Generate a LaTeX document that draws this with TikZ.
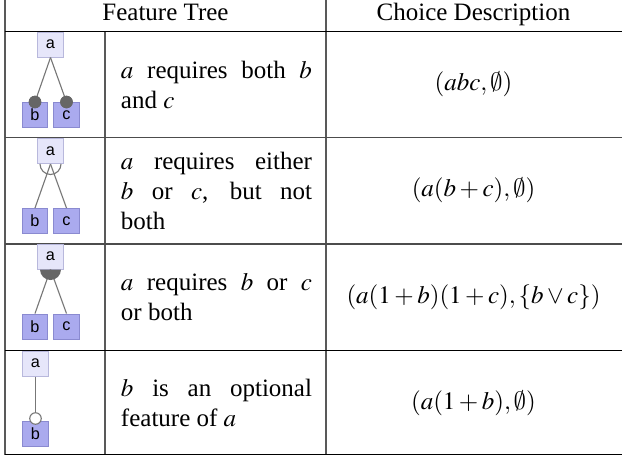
\documentclass[tikz,border=0pt]{standalone}
\usepackage{mathptmx}
\usepackage[no-math]{fontspec}
\setmainfont{Liberation Serif}
\newfontfamily\featfont{Liberation Sans}
\DeclareSymbolFont{cmsyfont}{OMS}{cmsy}{m}{n}
\DeclareMathSymbol{\myempty}{\mathord}{cmsyfont}{"3B}
\definecolor{rootfill}{HTML}{E6E6FA}
\definecolor{rootdraw}{HTML}{B8B8DC}
\definecolor{leaffill}{HTML}{AAAAEE}
\definecolor{leafdraw}{HTML}{8A8AD0}
\definecolor{edgegray}{HTML}{777777}
\definecolor{dotgray}{HTML}{666666}
\tikzset{
  rootbox/.style={rectangle, fill=rootfill, draw=rootdraw, line width=0.4pt, minimum width=10pt, minimum height=10pt, inner sep=0pt, font=\featfont\fontsize{6.5}{7}\selectfont},
  leafbox/.style={rectangle, fill=leaffill, draw=leafdraw, line width=0.4pt, minimum width=10pt, minimum height=10pt, inner sep=0pt, font=\featfont\fontsize{6.5}{7}\selectfont},
  edge/.style={draw=edgegray, line width=0.45pt},
  rule/.style={draw=black, line width=0.45pt},
  vrule/.style={draw=black!65, line width=0.45pt},
  desc/.style={anchor=west, text width=76.4pt, align=justify, inner sep=0pt, font=\fontsize{10}{12}\selectfont},
  formula/.style={inner sep=0pt, font=\fontsize{10}{12}\selectfont},
  mandot/.style={circle, fill=dotgray, draw=dotgray, minimum size=4.6pt, inner sep=0pt},
  optdot/.style={circle, fill=white, draw=edgegray, line width=0.45pt, minimum size=4.6pt, inner sep=0pt},
}
\begin{document}
\begin{tikzpicture}[x=0.4pt, y=-0.4pt]
\useasboundingbox (0,0) rectangle (622,456);
% table rules
\coordinate (tl) at (5,0);
\coordinate (bl) at (5,454.5);
\coordinate (br) at (622,454.5);
\coordinate (h1l) at (5,31.5);
\coordinate (h1r) at (622,31.5);
\coordinate (r1l) at (5,137.5);
\coordinate (r1r) at (622,137.5);
\coordinate (r2l) at (5,244);
\coordinate (r2r) at (622,244);
\coordinate (r3l) at (5,350.5);
\coordinate (r3r) at (622,350.5);
\coordinate (c1t) at (105,31.5);
\coordinate (c1b) at (105,454.5);
\coordinate (c2t) at (326,0);
\coordinate (c2b) at (326,454.5);
\draw[vrule] (tl) -- (bl);
\draw[vrule] (c1t) -- (c1b);
\draw[vrule] (c2t) -- (c2b);
\draw[rule] (h1l) -- (h1r);
\draw[rule, draw=black!70] (r1l) -- (r1r);
\draw[rule, draw=black!70] (r2l) -- (r2r);
\draw[rule] (r3l) -- (r3r);
\draw[rule] (bl) -- (br);
% headers
\node[formula, anchor=base] (h1) at (165.5,20.5) {Feature Tree};
\node[formula, anchor=base] (h2) at (473.5,20.5) {Choice Description};
% row 1: mandatory
\node[rootbox] (a1) at (50.5,44.5) {a};
\node[leafbox] (b1) at (35,115) {b};
\node[leafbox] (c1) at (66.5,115) {c};
\node[mandot] (mb1) at (b1.north) {};
\node[mandot] (mc1) at (c1.north) {};
\draw[edge] (a1.south) -- (mb1.center);
\draw[edge] (a1.south) -- (mc1.center);
\node[mandot] at (b1.north) {};
\node[mandot] at (c1.north) {};
\node[desc] (t1) at (120.5,84.5) {$a$ requires both $b$\linebreak and $c$};
\node[formula] (f1) at (473.5,84.5) {$(abc,\myempty)$};
% row 2: alternative
\node[rootbox] (a2) at (50.5,151) {a};
\node[leafbox] (b2) at (35,221) {b};
\node[leafbox] (c2) at (66.5,221) {c};
\draw[edge] (a2.south) -- (b2.north);
\draw[edge] (a2.south) -- (c2.north);
\draw[edge] ([xshift=-4.2pt]a2.south) arc[start angle=180, end angle=360, radius=4.2pt];
\node[desc] (t2) at (120.5,190.5) {$a$ requires either\linebreak $b$ or $c$, but not\linebreak both};
\node[formula] (f2) at (473.5,190.5) {$(a(b+c),\myempty)$};
% row 3: or
\node[rootbox] (a3) at (50.5,256.5) {a};
\node[leafbox] (b3) at (35,326.5) {b};
\node[leafbox] (c3) at (66.5,326.5) {c};
\draw[edge] (a3.south) -- (b3.north);
\draw[edge] (a3.south) -- (c3.north);
\fill[dotgray] ([xshift=-4.2pt]a3.south) arc[start angle=180, end angle=360, radius=4.2pt] -- cycle;
\node[desc] (t3) at (120.5,297) {$a$ requires $b$ or $c$\linebreak or both};
\node[formula] (f3) at (473.5,297) {$(a(1+b)(1+c),\{b\vee c\})$};
% row 4: optional
\node[rootbox] (a4) at (35.5,363.5) {a};
\node[leafbox] (b4) at (35.5,433.5) {b};
\node[optdot] (ob4) at ([yshift=0.8pt]b4.north) {};
\draw[edge] (a4.south) -- (ob4.north);
\node[desc] (t4) at (120.5,403) {$b$ is an optional\linebreak feature of $a$};
\node[formula] (f4) at (473.5,403) {$(a(1+b),\myempty)$};
\end{tikzpicture}
\end{document}
